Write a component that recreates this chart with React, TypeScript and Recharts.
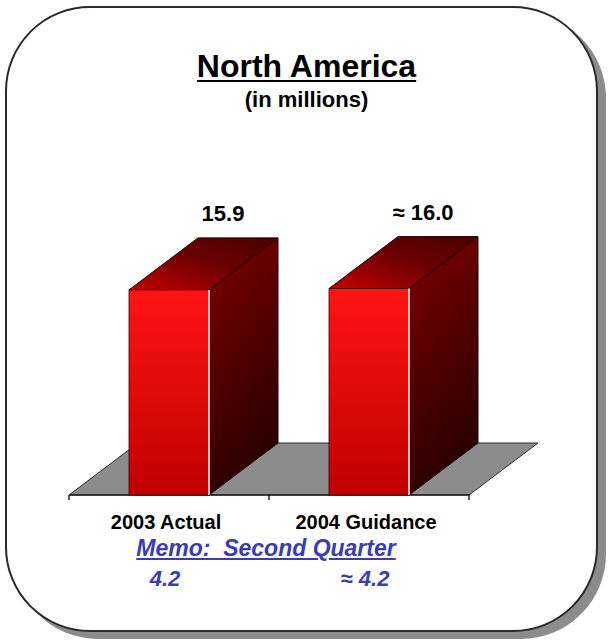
import { BarChart, Bar, XAxis, YAxis, LabelList, ReferenceArea } from 'recharts';

const categories = ['2003 Actual', '2004 Guidance'];
const values = [15.9, 16.0];
const valueLabels = ['15.9', '≈ 16.0'];
const memoValues = ['4.2', '≈ 4.2'];

const data = categories.map((name, i) => ({ name, value: values[i], label: valueLabels[i], memo: memoValues[i] }));

const FONT = '"Liberation Sans", Arial, Helvetica, sans-serif';
const DX = 69;
const DY = 52;

function Bar3D(props: any) {
    const { x, y, width, height } = props;
    if (!height) return null;
    const r = x + width;
    const b = y + height;
    return (
        <g>
            <polygon
                points={`${r},${y} ${r + DX},${y - DY} ${r + DX},${b - DY} ${r},${b}`}
                fill="url(#sideGrad)"
                stroke="#1a0000"
                strokeWidth={1}
            />
            <polygon
                points={`${x},${y} ${x + DX},${y - DY} ${r + DX},${y - DY} ${r},${y}`}
                fill="url(#topGrad)"
                stroke="#1a0000"
                strokeWidth={1}
            />
            <rect x={x} y={y} width={width} height={height} fill="url(#frontGrad)" stroke="#3a0000" strokeWidth={0.8} />
            <line x1={r} y1={y} x2={r} y2={b} stroke="#ffffff" strokeWidth={1.5} />
        </g>
    );
}

function Floor(props: any) {
    const { x, y, width, height } = props;
    const b = y + height;
    return (
        <g>
            <polygon
                points={`${x},${b} ${x + width},${b} ${x + width + DX},${b - DY} ${x + DX},${b - DY}`}
                fill="#8c8c8c"
                stroke="#2a2a2a"
                strokeWidth={1}
            />
            <line x1={x} y1={b} x2={x + width} y2={b} stroke="#222" strokeWidth={1.5} />
            {[0, 0.5, 1].map((f) => (
                <line key={f} x1={x + width * f} y1={b} x2={x + width * f} y2={b + 5} stroke="#222" strokeWidth={1.5} />
            ))}
        </g>
    );
}

function CategoryTick(props: any) {
    const { x, y, payload } = props;
    const i = payload.index;
    return (
        <g>
            <text x={x - 3} y={y} dy={26} textAnchor="middle" fontFamily={FONT} fontWeight="bold" fontSize={20} fill="#000">
                {categories[i]}
            </text>
            <text x={x - 4} y={y} dy={83} textAnchor="middle" fontFamily={FONT} fontWeight="bold" fontStyle="italic" fontSize={22} fill="#3b3bb5">
                {memoValues[i]}
            </text>
        </g>
    );
}

export default function App() {
    return (
        <div style={{ position: 'absolute', left: 0, top: 0, width: 613, height: 641, background: '#fff', overflow: 'hidden' }}>
            <div
                style={{
                    position: 'absolute',
                    left: 5,
                    top: 6,
                    width: 593,
                    height: 626,
                    boxSizing: 'border-box',
                    border: '2px solid #2a2a2a',
                    borderRadius: 85,
                    boxShadow: '8px 7px 0 #8c8c8c',
                    background: '#fff',
                }}
            />
            <div
                style={{
                    position: 'absolute',
                    left: 0,
                    width: 613,
                    top: 50,
                    textAlign: 'center',
                    fontFamily: FONT,
                    fontWeight: 'bold',
                    fontSize: 32,
                    lineHeight: '32px',
                    textDecoration: 'underline',
                    textDecorationThickness: 2,
                    textUnderlineOffset: 3,
                    color: '#000',
                }}
            >
                North America
            </div>
            <div
                style={{
                    position: 'absolute',
                    left: 0,
                    width: 613,
                    top: 89,
                    textAlign: 'center',
                    fontFamily: FONT,
                    fontWeight: 'bold',
                    fontSize: 22,
                    lineHeight: '22px',
                    color: '#000',
                }}
            >
                (in millions)
            </div>
            <div style={{ position: 'absolute', left: 0, top: 0 }}>
                <BarChart width={613} height={641} data={data} margin={{ top: 237, right: 144, bottom: 116, left: 69 }}>
                    <defs>
                        <linearGradient id="frontGrad" x1="0" y1="0" x2="0" y2="1">
                            <stop offset="0%" stopColor="#ff1414" />
                            <stop offset="100%" stopColor="#bf0000" />
                        </linearGradient>
                        <linearGradient id="sideGrad" x1="0" y1="0" x2="0.3" y2="1">
                            <stop offset="0%" stopColor="#800000" />
                            <stop offset="100%" stopColor="#2a0000" />
                        </linearGradient>
                        <linearGradient id="topGrad" x1="0" y1="1" x2="1" y2="0">
                            <stop offset="0%" stopColor="#c40000" />
                            <stop offset="55%" stopColor="#6a0000" />
                            <stop offset="100%" stopColor="#4a0000" />
                        </linearGradient>
                    </defs>
                    <XAxis dataKey="name" axisLine={false} tickLine={false} interval={0} height={30} tick={<CategoryTick />} />
                    <YAxis hide width={0} domain={[0, 20]} />
                    <ReferenceArea y1={0} y2={0.5} shape={<Floor />} />
                    <Bar dataKey="value" barSize={80} shape={<Bar3D />} isAnimationActive={false}>
                        <LabelList
                            dataKey="label"
                            content={(p: any) => (
                                <text
                                    x={p.x + p.width / 2 + 54}
                                    y={p.y - 69}
                                    textAnchor="middle"
                                    fontFamily={FONT}
                                    fontWeight="bold"
                                    fontSize={22}
                                    fill="#000"
                                >
                                    {p.value}
                                </text>
                            )}
                        />
                    </Bar>
                </BarChart>
            </div>
            <div
                style={{
                    position: 'absolute',
                    left: 66,
                    width: 400,
                    top: 537,
                    textAlign: 'center',
                    fontFamily: FONT,
                    fontWeight: 'bold',
                    fontStyle: 'italic',
                    fontSize: 23,
                    lineHeight: '23px',
                    color: '#3b3bb5',
                    textDecoration: 'underline',
                    whiteSpace: 'pre',
                }}
            >
                {'Memo:  Second Quarter'}
            </div>
        </div>
    );
}
